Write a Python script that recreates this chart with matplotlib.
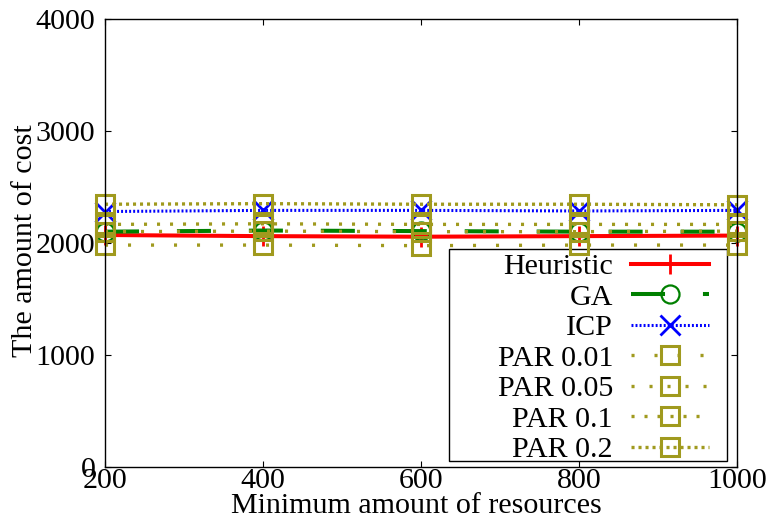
import matplotlib
matplotlib.use('Agg')
import matplotlib.pyplot as plt
from matplotlib.patches import Rectangle

# 데이터
resources = [200, 400, 600, 800, 1000]
heuristic = [2070, 2060, 2055, 2060, 2065]
ga = [2100, 2110, 2105, 2100, 2100]
icp = [2280, 2290, 2290, 2285, 2290]
par_001 = [1980, 1980, 1975, 1980, 1980]
par_005 = [2100, 2105, 2100, 2100, 2105]
par_01 = [2165, 2170, 2165, 2165, 2165]
par_02 = [2345, 2350, 2345, 2345, 2340]

x_ticks = [200, 400, 600, 800, 1000]
y_ticks = [0, 1000, 2000, 3000, 4000]

plt.rcParams['font.family'] = ['Liberation Serif', 'DejaVu Serif']
plt.rcParams['lines.scale_dashes'] = False

OLIVE = '#a09a1e'

fig = plt.figure(figsize=(7.69, 5.2), dpi=100)
ax = fig.add_axes([105 / 769, 53.3 / 520, 632 / 769, 447.7 / 520])

ax.plot(resources, heuristic, color='#ff0000', lw=2.9, marker='+', ms=14.5, mew=2.0,
        label='Heuristic', clip_on=False)
ax.plot(resources, ga, color='#008000', lw=2.9, ls=(0, (24.5, 27.3)), marker='o', ms=13,
        mfc='none', mew=1.6, label='GA', clip_on=False)
ax.plot(resources, icp, color='#0000ff', lw=2.2, ls=(0, (1.4, 1.5)), marker='x', ms=14,
        mew=2.0, label='ICP', clip_on=False)

par_series = [
    ('PAR 0.01', par_001, 14.36),
    ('PAR 0.05', par_005, 10.76),
    ('PAR 0.1', par_01, 7.16),
    ('PAR 0.2', par_02, 2.84),
]
for name, vals, gap in par_series:
    ax.plot(resources, vals, color=OLIVE, lw=2.4, ls=(0, (2.2, gap)), marker='s', ms=13,
            mfc='none', mec=OLIVE, mew=2.2, label=name, clip_on=False)

ax.set_xlim(200, 1000)
ax.set_ylim(0, 4000)
ax.set_xticks(x_ticks)
ax.set_yticks(y_ticks)
ax.tick_params(direction='in', length=4, width=0.8, top=True, right=True, labelsize=21.6)
ax.tick_params(axis='x', pad=1)
ax.tick_params(axis='y', pad=7)
for s in ax.spines.values():
    s.set_linewidth(1.0)

ax.set_xlabel('Minimum amount of resources', fontsize=21.6)
ax.xaxis.set_label_coords(0.492, -0.058)
ax.set_ylabel('The amount of cost', fontsize=21.6)
ax.yaxis.set_label_coords(-0.106, 0.506)

# 범례 테두리 (gnuplot 스타일)
ax.add_patch(Rectangle(((449 - 105) / 632, (466.7 - 461) / 447.7), 278 / 632, 212 / 447.7,
                       transform=ax.transAxes, fill=False, edgecolor='black', lw=1.0,
                       clip_on=False, zorder=1))
leg = ax.legend(loc='upper right', bbox_to_anchor=((709 - 105) / 632, (466.7 - 253) / 447.7),
                borderaxespad=0, borderpad=0, frameon=False, markerfirst=False,
                fontsize=21.6, handlelength=2.6, handletextpad=0.6, labelspacing=0.117,
                numpoints=1)

fig.savefig('out.png', dpi=100)
